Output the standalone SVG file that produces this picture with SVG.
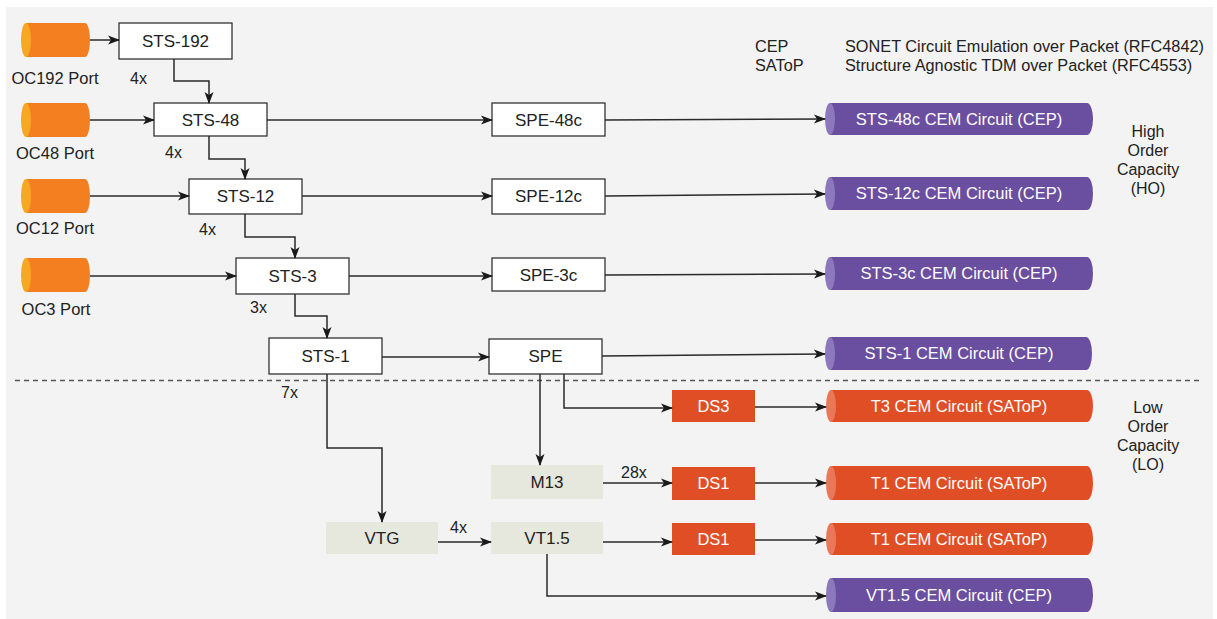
<svg xmlns="http://www.w3.org/2000/svg" width="1217" height="619" viewBox="0 0 1217 619">
<defs>
<marker id="ah" markerWidth="12" markerHeight="10" refX="11" refY="5" orient="auto" markerUnits="userSpaceOnUse">
<path d="M0,0.5 L12,5 L0,9.5 L3,5 Z" fill="#1a1a1a"/>
</marker>
<style>
text{font-family:"Liberation Sans",Arial,sans-serif;fill:#222}
.lbl{font-size:17px;text-anchor:middle}
.port{font-size:16.5px;text-anchor:middle}
.cnt{font-size:16px}
.leg{font-size:16.3px}
.wt{font-size:16.5px;text-anchor:middle;fill:#fff}
.box{fill:#fff;stroke:#333;stroke-width:1.3}
.bg2{fill:#e7e8dd}
.red{fill:#e04e26}
.obody{fill:#f47f20}.ocap{fill:#f7a823}
.pbody{fill:#6a4ea0}.pcap{fill:#8c78bd}
.rbody{fill:#e04e26}.rcap{fill:#ea7858}
.ln{fill:none;stroke:#2a2a2a;stroke-width:1.5;marker-end:url(#ah)}
</style>
</defs>
<rect x="0" y="0" width="1217" height="619" fill="#fff"/>
<rect x="6" y="7" width="1207" height="612" fill="#f3f3f3"/>

<!-- legend -->
<g id="legend">
<text class="leg" x="755" y="52">CEP</text>
<text class="leg" x="755" y="71">SAToP</text>
<text class="leg" x="845" y="52">SONET Circuit Emulation over Packet (RFC4842)</text>
<text class="leg" x="845" y="71">Structure Agnostic TDM over Packet (RFC4553)</text>
</g>
<g id="ho-label">
<text class="cnt" text-anchor="middle" x="1148" y="137">High</text>
<text class="cnt" text-anchor="middle" x="1148" y="156">Order</text>
<text class="cnt" text-anchor="middle" x="1148" y="175">Capacity</text>
<text class="cnt" text-anchor="middle" x="1148" y="194">(HO)</text>
</g>
<g id="lo-label">
<text class="cnt" text-anchor="middle" x="1148" y="413">Low</text>
<text class="cnt" text-anchor="middle" x="1148" y="432">Order</text>
<text class="cnt" text-anchor="middle" x="1148" y="451">Capacity</text>
<text class="cnt" text-anchor="middle" x="1148" y="470">(LO)</text>
</g>
<line id="divider" x1="15" y1="380.5" x2="1202" y2="380.5" stroke="#555" stroke-width="1.3" stroke-dasharray="5,4"/>

<!-- ports -->
<g id="oc192"><path class="obody" d="M26,23 H85 A5,17 0 0 1 85,57 H26 Z"/><ellipse class="ocap" cx="26" cy="40" rx="5" ry="17"/><text class="port" x="55" y="84">OC192 Port</text></g>
<g id="oc48"><path class="obody" d="M26,103 H85 A5,17 0 0 1 85,137 H26 Z"/><ellipse class="ocap" cx="26" cy="120" rx="5" ry="17"/><text class="port" x="55" y="159">OC48 Port</text></g>
<g id="oc12"><path class="obody" d="M26,179 H85 A5,17 0 0 1 85,213 H26 Z"/><ellipse class="ocap" cx="26" cy="196" rx="5" ry="17"/><text class="port" x="55" y="234">OC12 Port</text></g>
<g id="oc3"><path class="obody" d="M26,258 H85 A5,17 0 0 1 85,292 H26 Z"/><ellipse class="ocap" cx="26" cy="275" rx="5" ry="17"/><text class="port" x="56" y="315">OC3 Port</text></g>

<!-- STS boxes -->
<g id="sts192"><rect class="box" x="119" y="23" width="113" height="36"/><text class="lbl" x="175.5" y="47">STS-192</text></g>
<g id="sts48"><rect class="box" x="154" y="103" width="113" height="33"/><text class="lbl" x="210.5" y="126">STS-48</text></g>
<g id="sts12"><rect class="box" x="189" y="179" width="113" height="35"/><text class="lbl" x="245.5" y="202">STS-12</text></g>
<g id="sts3"><rect class="box" x="236" y="258" width="113" height="36"/><text class="lbl" x="292.5" y="282">STS-3</text></g>
<g id="sts1"><rect class="box" x="269" y="338" width="113" height="36"/><text class="lbl" x="325.5" y="362">STS-1</text></g>

<!-- SPE boxes -->
<g id="spe48c"><rect class="box" x="492" y="103" width="113" height="33"/><text class="lbl" x="548.5" y="126">SPE-48c</text></g>
<g id="spe12c"><rect class="box" x="492" y="179" width="113" height="35"/><text class="lbl" x="548.5" y="202">SPE-12c</text></g>
<g id="spe3c"><rect class="box" x="492" y="258" width="113" height="33"/><text class="lbl" x="548.5" y="281">SPE-3c</text></g>
<g id="spe"><rect class="box" x="489" y="339" width="113" height="35"/><text class="lbl" x="545.5" y="362">SPE</text></g>

<!-- LO boxes -->
<g id="m13"><rect class="bg2" x="491" y="465" width="112" height="34"/><text class="lbl" x="547" y="488">M13</text></g>
<g id="vtg"><rect class="bg2" x="326" y="522" width="112" height="32"/><text class="lbl" x="382" y="544">VTG</text></g>
<g id="vt15"><rect class="bg2" x="491" y="522" width="112" height="32"/><text class="lbl" x="547" y="544">VT1.5</text></g>
<g id="ds3"><rect class="red" x="672" y="390" width="83" height="32"/><text class="wt" x="713.5" y="412">DS3</text></g>
<g id="ds1a"><rect class="red" x="672" y="467" width="83" height="33"/><text class="wt" x="713.5" y="489">DS1</text></g>
<g id="ds1b"><rect class="red" x="672" y="523" width="83" height="32"/><text class="wt" x="713.5" y="545">DS1</text></g>

<!-- circuits -->
<g id="c-sts48c"><path class="pbody" d="M830,103 H1087 A6,16 0 0 1 1087,135 H830 Z"/><ellipse class="pcap" cx="830" cy="119" rx="5" ry="16"/><text class="wt" x="959" y="125">STS-48c CEM Circuit (CEP)</text></g>
<g id="c-sts12c"><path class="pbody" d="M830,177 H1087 A6,16.5 0 0 1 1087,210 H830 Z"/><ellipse class="pcap" cx="830" cy="193.5" rx="5" ry="16.5"/><text class="wt" x="959" y="199">STS-12c CEM Circuit (CEP)</text></g>
<g id="c-sts3c"><path class="pbody" d="M830,257 H1087 A6,16.5 0 0 1 1087,290 H830 Z"/><ellipse class="pcap" cx="830" cy="273.5" rx="5" ry="16.5"/><text class="wt" x="959" y="279">STS-3c CEM Circuit (CEP)</text></g>
<g id="c-sts1"><path class="pbody" d="M830,337 H1086 A6,16.5 0 0 1 1086,370 H830 Z"/><ellipse class="pcap" cx="830" cy="353.5" rx="5" ry="16.5"/><text class="wt" x="959" y="359">STS-1 CEM Circuit (CEP)</text></g>
<g id="c-t3"><path class="rbody" d="M831,390 H1087 A6,16 0 0 1 1087,422 H831 Z"/><ellipse class="rcap" cx="831" cy="406" rx="5" ry="16"/><text class="wt" x="959" y="412">T3 CEM Circuit (SAToP)</text></g>
<g id="c-t1a"><path class="rbody" d="M831,466 H1087 A6,17 0 0 1 1087,500 H831 Z"/><ellipse class="rcap" cx="831" cy="483" rx="5" ry="17"/><text class="wt" x="959" y="489">T1 CEM Circuit (SAToP)</text></g>
<g id="c-t1b"><path class="rbody" d="M831,523 H1087 A6,16 0 0 1 1087,555 H831 Z"/><ellipse class="rcap" cx="831" cy="539" rx="5" ry="16"/><text class="wt" x="959" y="545">T1 CEM Circuit (SAToP)</text></g>
<g id="c-vt15"><path class="pbody" d="M831,578 H1087 A6,17 0 0 1 1087,612 H831 Z"/><ellipse class="pcap" cx="831" cy="595" rx="5" ry="17"/><text class="wt" x="959" y="601">VT1.5 CEM Circuit (CEP)</text></g>

<!-- connectors -->
<g id="connectors">
<path class="ln" d="M90,40 H119"/>
<path class="ln" d="M174,59 V81 H209 V103"/>
<path class="ln" d="M90,120 H154"/>
<path class="ln" d="M267,120 H492"/>
<path class="ln" d="M605,120 L825,119"/>
<path class="ln" d="M209,136 V159 H245 V179"/>
<path class="ln" d="M90,196 H189"/>
<path class="ln" d="M302,196 H492"/>
<path class="ln" d="M605,196 L825,194"/>
<path class="ln" d="M245,214 V237 H295 V258"/>
<path class="ln" d="M90,276 H236"/>
<path class="ln" d="M349,276 H492"/>
<path class="ln" d="M605,275 L825,274"/>
<path class="ln" d="M295,294 V316 H327 V338"/>
<path class="ln" d="M382,357 H489"/>
<path class="ln" d="M602,356 L825,354"/>
<path class="ln" d="M327,374 V448 H382 V522"/>
<path class="ln" d="M540,374 V465"/>
<path class="ln" d="M564,374 V408 H672"/>
<path class="ln" d="M755,407 H826"/>
<path class="ln" d="M603,483 H672"/>
<path class="ln" d="M755,483 H826"/>
<path class="ln" d="M438,542 H491"/>
<path class="ln" d="M603,542 H672"/>
<path class="ln" d="M755,540 H826"/>
<path class="ln" d="M547,554 V596 H826"/>
</g>
<g id="counts">
<text class="cnt" x="130" y="84">4x</text>
<text class="cnt" x="165" y="158">4x</text>
<text class="cnt" x="199" y="235">4x</text>
<text class="cnt" x="250" y="313">3x</text>
<text class="cnt" x="281" y="398">7x</text>
<text class="cnt" x="450" y="533">4x</text>
<text class="cnt" x="621" y="478">28x</text>
</g>
</svg>
